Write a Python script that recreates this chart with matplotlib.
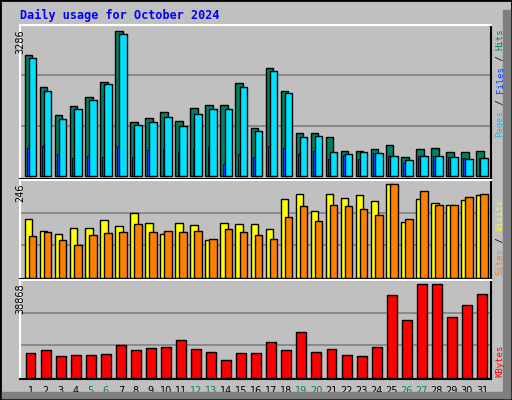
import numpy as np
import matplotlib
matplotlib.use('Agg')
import matplotlib.pyplot as plt
from matplotlib.patches import Rectangle

days = np.arange(1, 32)
weekend = [5, 6, 12, 13, 19, 20, 26, 27]

# values (approximate)
hits = [2750, 2020, 1390, 1590, 1790, 2130, 3286, 1230, 1320, 1455, 1250, 1540, 1610, 1610, 2100,
        1100, 2460, 1940, 990, 990, 900, 580, 580, 625, 715, 445, 625, 650, 560, 560, 580]
files = [2680, 1940, 1300, 1520, 1720, 2080, 3220, 1160, 1230, 1340, 1140, 1410, 1520, 1520, 2010,
         1030, 2390, 1880, 895, 915, 560, 515, 560, 535, 470, 360, 470, 470, 445, 400, 425]
pages = [650, 690, 515, 425, 470, 445, 690, 445, 605, 625, 560, 625, 670, 290, 515,
         445, 690, 650, 515, 580, 400, 490, 400, 535, 470, 310, 470, 470, 445, 425, 425]
sites = [155, 123, 115, 131, 131, 152, 136, 170, 144, 115, 144, 138, 98, 144, 141,
         141, 128, 206, 219, 174, 219, 208, 216, 200, 246, 147, 206, 197, 192, 203, 216]
visits = [109, 119, 98, 87, 111, 117, 119, 141, 119, 122, 119, 124, 103, 128, 119,
          111, 101, 160, 187, 149, 192, 187, 179, 165, 246, 155, 227, 192, 190, 211, 219]
kbytes = [10350, 11630, 9080, 9500, 9500, 9930, 13760, 11630, 12480, 12910, 15890, 12060, 10780,
          7380, 10350, 10350, 15040, 11630, 18870, 10640, 12060, 9500, 9080, 12910, 34190,
          23980, 38868, 38868, 25250, 30350, 34610]

bg = '#C0C0C0'
W, H = 512, 400
fig = plt.figure(figsize=(W / 100, H / 100), dpi=100, facecolor=bg)

# outer border and bevel
fig.patches.append(Rectangle((0, 0), 1, 1, transform=fig.transFigure, fill=False,
                             edgecolor='black', linewidth=2))
fig.patches.append(Rectangle((503 / W, 2 / H), 7 / W, 388 / H, transform=fig.transFigure,
                             color='#808080'))
fig.patches.append(Rectangle((2 / W, 2 / H), 508 / W, 6 / H, transform=fig.transFigure,
                             color='#808080'))

fig.text(20 / W, 1 - 15 / H, 'Daily usage for October 2024', color='#0000FF',
         family='DejaVu Sans Mono', weight='bold', fontsize=8.5, va='center')


def panel(y0, y1):
    ax = fig.add_axes([20 / W, 1 - y1 / H, 471 / W, (y1 - y0) / H])
    ax.set_facecolor(bg)
    ax.set_xlim(0.3, 31.6)
    for s in ax.spines.values():
        s.set_color('white')
        s.set_linewidth(1.5)
    ax.spines['right'].set_color('black')
    ax.spines['bottom'].set_color('black')
    ax.set_yticks([])
    ax.set_xticks([])
    return ax


def grid(ax, vmax):
    for f in (1 / 3, 2 / 3):
        ax.axhline(vmax * f, color='#808080', linewidth=1.2, zorder=0)


edge = dict(edgecolor='black', linewidth=1)

ax1 = panel(25, 179)
ax1.set_ylim(-60, 3286 / 0.96)
grid(ax1, 3286 / 0.96)
ax1.bar(days - 0.13, hits, width=0.5, color='#008060', zorder=2, **edge)
ax1.bar(days + 0.14, files, width=0.5, color='#00E0FF', zorder=3, **edge)
ax1.bar(days - 0.17, pages, width=0.12, color='#0040FF', zorder=4, edgecolor='black', linewidth=0.6)

ax2 = panel(180, 279)
ax2.set_ylim(-3, 246 / 0.96)
grid(ax2, 246 / 0.96)
ax2.bar(days - 0.13, sites, width=0.5, color='#FFFF00', zorder=2, **edge)
ax2.bar(days + 0.14, visits, width=0.5, color='#FF8000', zorder=3, **edge)

ax3 = panel(280, 379)
ax3.set_ylim(-400, 38868 / 0.96)
grid(ax3, 38868 / 0.96)
ax3.bar(days, kbytes, width=0.66, color='#FF0000', zorder=2, **edge)

for d in days:
    ax3.text(d, -0.07, str(d), transform=ax3.get_xaxis_transform(), ha='center', va='top',
             fontsize=7, color='#008060' if d in weekend else 'black')

for y, lab in ((29, '3286'), (184, '246'), (283, '38868')):
    fig.text(15 / W, 1 - y / H, lab, rotation=90, ha='left', va='top', fontsize=7)


# right side labels, read bottom to top
def side(parts, ybottom):
    y = ybottom
    for txt, col in parts:
        fig.text(500 / W, 1 - y / H, txt, rotation=90, ha='center', va='bottom',
                 rotation_mode='anchor' if False else 'default',
                 family='DejaVu Sans Mono', fontsize=6.5, color=col)
        y -= len(txt) * 5.45


side([('Pages', '#00C0FF'), (' / ', 'black'), ('Files', '#0040FF'), (' / ', 'black'),
      ('Hits', '#008060')], 137)
side([('Sites', '#FF8000'), (' / ', 'black'), ('Visits', '#FFFF00')], 275)
side([('KBytes', '#FF0000')], 377)

fig.savefig('out.png', dpi=100, facecolor=bg)
